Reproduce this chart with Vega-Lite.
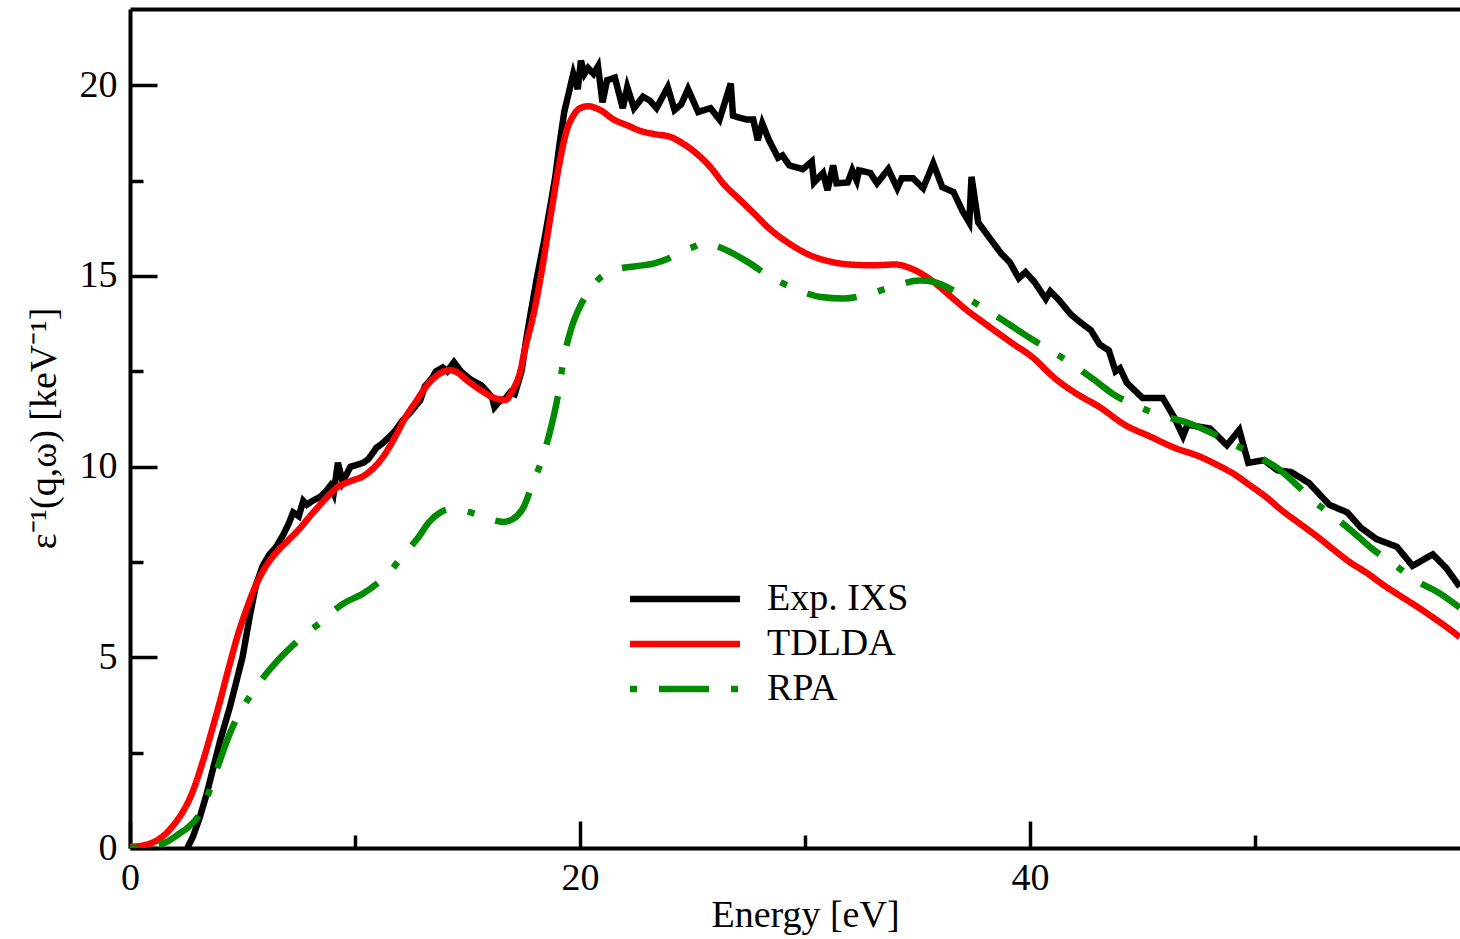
{
"$schema":"https://vega.github.io/schema/vega-lite/v6.json",
"width":1330,"height":839,
"autosize":"none",
"padding":{"left":130,"top":9,"right":0,"bottom":91},
"background":"white",
"config":{
"view":{"stroke":null},
"font":"Liberation Serif",
"axis":{"grid":false,"domainColor":"black","domainWidth":4,"tickColor":"black","tickWidth":3.5,"labelFont":"Liberation Serif","labelFontSize":38,"labelColor":"black","titleFont":"Liberation Serif","titleFontSize":38,"titleFontWeight":"normal","titleColor":"black","labelFlush":false,"labelOverlap":false},
"legend":{"orient":"none","legendX":536,"legendY":571,"symbolType":"M-5,0L5,0","symbolSize":484,"symbolStrokeWidth":6.5,"labelFont":"Liberation Serif","labelFontSize":38,"labelColor":"black","labelOffset":63,"rowPadding":7,"padding":0,"labelLimit":0}
},
"data":{"values":[
{"s":"Exp. IXS","e":2.55,"v":0},{"s":"Exp. IXS","e":2.8,"v":0.3},{"s":"Exp. IXS","e":3.1,"v":0.8},{"s":"Exp. IXS","e":3.4,"v":1.4},{"s":"Exp. IXS","e":3.7,"v":2.1},{"s":"Exp. IXS","e":4.0,"v":2.8},{"s":"Exp. IXS","e":4.44,"v":3.7},{"s":"Exp. IXS","e":4.7,"v":4.3},{"s":"Exp. IXS","e":5.0,"v":5.0},{"s":"Exp. IXS","e":5.33,"v":6.1},{"s":"Exp. IXS","e":5.6,"v":6.9},{"s":"Exp. IXS","e":5.9,"v":7.4},{"s":"Exp. IXS","e":6.2,"v":7.7},{"s":"Exp. IXS","e":6.5,"v":7.9},{"s":"Exp. IXS","e":6.8,"v":8.2},{"s":"Exp. IXS","e":7.05,"v":8.5},{"s":"Exp. IXS","e":7.25,"v":8.8},{"s":"Exp. IXS","e":7.5,"v":8.7},{"s":"Exp. IXS","e":7.7,"v":9.1},{"s":"Exp. IXS","e":7.86,"v":9.0},{"s":"Exp. IXS","e":8.1,"v":9.1},{"s":"Exp. IXS","e":8.44,"v":9.2},{"s":"Exp. IXS","e":8.7,"v":9.35},{"s":"Exp. IXS","e":8.9,"v":9.5},{"s":"Exp. IXS","e":9.05,"v":9.3},{"s":"Exp. IXS","e":9.24,"v":10.1},{"s":"Exp. IXS","e":9.45,"v":9.6},{"s":"Exp. IXS","e":9.8,"v":10.0},{"s":"Exp. IXS","e":10.1,"v":10.05},{"s":"Exp. IXS","e":10.36,"v":10.1},{"s":"Exp. IXS","e":10.6,"v":10.2},{"s":"Exp. IXS","e":10.96,"v":10.5},{"s":"Exp. IXS","e":11.2,"v":10.6},{"s":"Exp. IXS","e":11.56,"v":10.8},{"s":"Exp. IXS","e":11.8,"v":10.95},{"s":"Exp. IXS","e":12.1,"v":11.2},{"s":"Exp. IXS","e":12.5,"v":11.45},{"s":"Exp. IXS","e":12.9,"v":11.74},{"s":"Exp. IXS","e":13.1,"v":12.1},{"s":"Exp. IXS","e":13.4,"v":12.3},{"s":"Exp. IXS","e":13.6,"v":12.5},{"s":"Exp. IXS","e":13.9,"v":12.6},{"s":"Exp. IXS","e":14.1,"v":12.5},{"s":"Exp. IXS","e":14.4,"v":12.74},{"s":"Exp. IXS","e":14.7,"v":12.5},{"s":"Exp. IXS","e":15.1,"v":12.3},{"s":"Exp. IXS","e":15.4,"v":12.2},{"s":"Exp. IXS","e":15.6,"v":12.14},{"s":"Exp. IXS","e":15.9,"v":11.95},{"s":"Exp. IXS","e":16.1,"v":11.8},{"s":"Exp. IXS","e":16.2,"v":11.56},{"s":"Exp. IXS","e":16.4,"v":11.7},{"s":"Exp. IXS","e":16.7,"v":11.8},{"s":"Exp. IXS","e":16.9,"v":11.95},{"s":"Exp. IXS","e":17.1,"v":11.9},{"s":"Exp. IXS","e":17.4,"v":12.5},{"s":"Exp. IXS","e":17.6,"v":13.3},{"s":"Exp. IXS","e":17.8,"v":14.0},{"s":"Exp. IXS","e":18.1,"v":15.0},{"s":"Exp. IXS","e":18.4,"v":15.9},{"s":"Exp. IXS","e":18.7,"v":16.9},{"s":"Exp. IXS","e":18.9,"v":17.6},{"s":"Exp. IXS","e":19.1,"v":18.5},{"s":"Exp. IXS","e":19.3,"v":19.3},{"s":"Exp. IXS","e":19.5,"v":19.8},{"s":"Exp. IXS","e":19.7,"v":20.3},{"s":"Exp. IXS","e":19.9,"v":19.9},{"s":"Exp. IXS","e":20.04,"v":20.65},{"s":"Exp. IXS","e":20.2,"v":20.3},{"s":"Exp. IXS","e":20.36,"v":20.45},{"s":"Exp. IXS","e":20.6,"v":20.3},{"s":"Exp. IXS","e":20.8,"v":20.5},{"s":"Exp. IXS","e":21.0,"v":19.55},{"s":"Exp. IXS","e":21.2,"v":20.13},{"s":"Exp. IXS","e":21.55,"v":20.2},{"s":"Exp. IXS","e":21.9,"v":19.4},{"s":"Exp. IXS","e":22.1,"v":19.95},{"s":"Exp. IXS","e":22.4,"v":19.4},{"s":"Exp. IXS","e":22.8,"v":19.7},{"s":"Exp. IXS","e":23.1,"v":19.6},{"s":"Exp. IXS","e":23.4,"v":19.4},{"s":"Exp. IXS","e":23.9,"v":19.95},{"s":"Exp. IXS","e":24.2,"v":19.35},{"s":"Exp. IXS","e":24.5,"v":19.5},{"s":"Exp. IXS","e":24.8,"v":19.9},{"s":"Exp. IXS","e":25.25,"v":19.3},{"s":"Exp. IXS","e":25.8,"v":19.4},{"s":"Exp. IXS","e":26.2,"v":19.1},{"s":"Exp. IXS","e":26.7,"v":20.05},{"s":"Exp. IXS","e":26.8,"v":19.2},{"s":"Exp. IXS","e":27.4,"v":19.1},{"s":"Exp. IXS","e":27.7,"v":19.1},{"s":"Exp. IXS","e":27.9,"v":18.56},{"s":"Exp. IXS","e":28.1,"v":19.0},{"s":"Exp. IXS","e":28.4,"v":18.56},{"s":"Exp. IXS","e":28.8,"v":18.1},{"s":"Exp. IXS","e":29.0,"v":18.16},{"s":"Exp. IXS","e":29.3,"v":17.9},{"s":"Exp. IXS","e":29.9,"v":17.8},{"s":"Exp. IXS","e":30.3,"v":18.0},{"s":"Exp. IXS","e":30.4,"v":17.45},{"s":"Exp. IXS","e":30.8,"v":17.7},{"s":"Exp. IXS","e":31.0,"v":17.25},{"s":"Exp. IXS","e":31.25,"v":17.9},{"s":"Exp. IXS","e":31.4,"v":17.43},{"s":"Exp. IXS","e":31.9,"v":17.45},{"s":"Exp. IXS","e":32.1,"v":17.77},{"s":"Exp. IXS","e":32.3,"v":17.5},{"s":"Exp. IXS","e":32.4,"v":17.77},{"s":"Exp. IXS","e":32.9,"v":17.7},{"s":"Exp. IXS","e":33.2,"v":17.43},{"s":"Exp. IXS","e":33.7,"v":17.8},{"s":"Exp. IXS","e":34.1,"v":17.3},{"s":"Exp. IXS","e":34.3,"v":17.56},{"s":"Exp. IXS","e":34.8,"v":17.56},{"s":"Exp. IXS","e":35.25,"v":17.3},{"s":"Exp. IXS","e":35.7,"v":17.95},{"s":"Exp. IXS","e":36.1,"v":17.33},{"s":"Exp. IXS","e":36.6,"v":17.2},{"s":"Exp. IXS","e":37.0,"v":16.7},{"s":"Exp. IXS","e":37.3,"v":16.4},{"s":"Exp. IXS","e":37.4,"v":17.6},{"s":"Exp. IXS","e":37.7,"v":16.4},{"s":"Exp. IXS","e":38.2,"v":16.0},{"s":"Exp. IXS","e":38.7,"v":15.6},{"s":"Exp. IXS","e":39.1,"v":15.36},{"s":"Exp. IXS","e":39.5,"v":14.94},{"s":"Exp. IXS","e":39.8,"v":15.1},{"s":"Exp. IXS","e":40.2,"v":14.84},{"s":"Exp. IXS","e":40.7,"v":14.4},{"s":"Exp. IXS","e":40.9,"v":14.6},{"s":"Exp. IXS","e":41.3,"v":14.36},{"s":"Exp. IXS","e":41.8,"v":14.0},{"s":"Exp. IXS","e":42.2,"v":13.8},{"s":"Exp. IXS","e":42.7,"v":13.58},{"s":"Exp. IXS","e":43.1,"v":13.2},{"s":"Exp. IXS","e":43.5,"v":13.05},{"s":"Exp. IXS","e":43.8,"v":12.5},{"s":"Exp. IXS","e":44.0,"v":12.58},{"s":"Exp. IXS","e":44.3,"v":12.2},{"s":"Exp. IXS","e":45.0,"v":11.8},{"s":"Exp. IXS","e":45.9,"v":11.8},{"s":"Exp. IXS","e":46.4,"v":11.3},{"s":"Exp. IXS","e":46.8,"v":10.8},{"s":"Exp. IXS","e":47.0,"v":11.1},{"s":"Exp. IXS","e":48.0,"v":11.0},{"s":"Exp. IXS","e":48.75,"v":10.56},{"s":"Exp. IXS","e":49.3,"v":10.96},{"s":"Exp. IXS","e":49.7,"v":10.1},{"s":"Exp. IXS","e":50.4,"v":10.17},{"s":"Exp. IXS","e":51.0,"v":9.9},{"s":"Exp. IXS","e":51.6,"v":9.86},{"s":"Exp. IXS","e":52.4,"v":9.57},{"s":"Exp. IXS","e":53.3,"v":9.0},{"s":"Exp. IXS","e":54.1,"v":8.8},{"s":"Exp. IXS","e":54.7,"v":8.4},{"s":"Exp. IXS","e":55.4,"v":8.1},{"s":"Exp. IXS","e":56.3,"v":7.9},{"s":"Exp. IXS","e":57.0,"v":7.4},{"s":"Exp. IXS","e":57.9,"v":7.7},{"s":"Exp. IXS","e":58.5,"v":7.34},{"s":"Exp. IXS","e":59.1,"v":6.85},
{"s":"TDLDA","e":0,"v":0.03},{"s":"TDLDA","e":0.6,"v":0.07},{"s":"TDLDA","e":1.2,"v":0.2},{"s":"TDLDA","e":1.6,"v":0.38},{"s":"TDLDA","e":2.0,"v":0.65},{"s":"TDLDA","e":2.4,"v":1.0},{"s":"TDLDA","e":2.8,"v":1.5},{"s":"TDLDA","e":3.2,"v":2.2},{"s":"TDLDA","e":3.6,"v":3.0},{"s":"TDLDA","e":4.0,"v":3.85},{"s":"TDLDA","e":4.4,"v":4.75},{"s":"TDLDA","e":4.8,"v":5.6},{"s":"TDLDA","e":5.2,"v":6.3},{"s":"TDLDA","e":5.6,"v":6.9},{"s":"TDLDA","e":6.0,"v":7.35},{"s":"TDLDA","e":6.5,"v":7.75},{"s":"TDLDA","e":7.0,"v":8.05},{"s":"TDLDA","e":7.5,"v":8.35},{"s":"TDLDA","e":8.0,"v":8.7},{"s":"TDLDA","e":8.6,"v":9.1},{"s":"TDLDA","e":9.2,"v":9.45},{"s":"TDLDA","e":9.8,"v":9.62},{"s":"TDLDA","e":10.36,"v":9.75},{"s":"TDLDA","e":10.8,"v":9.95},{"s":"TDLDA","e":11.24,"v":10.25},{"s":"TDLDA","e":11.8,"v":10.8},{"s":"TDLDA","e":12.2,"v":11.25},{"s":"TDLDA","e":12.7,"v":11.7},{"s":"TDLDA","e":13.3,"v":12.2},{"s":"TDLDA","e":13.8,"v":12.45},{"s":"TDLDA","e":14.2,"v":12.53},{"s":"TDLDA","e":14.6,"v":12.45},{"s":"TDLDA","e":14.9,"v":12.3},{"s":"TDLDA","e":15.6,"v":12.0},{"s":"TDLDA","e":16.2,"v":11.8},{"s":"TDLDA","e":16.7,"v":11.75},{"s":"TDLDA","e":17.0,"v":12.0},{"s":"TDLDA","e":17.3,"v":12.4},{"s":"TDLDA","e":17.6,"v":13.2},{"s":"TDLDA","e":17.9,"v":13.9},{"s":"TDLDA","e":18.2,"v":14.8},{"s":"TDLDA","e":18.7,"v":16.6},{"s":"TDLDA","e":19.1,"v":18.0},{"s":"TDLDA","e":19.4,"v":18.8},{"s":"TDLDA","e":19.7,"v":19.2},{"s":"TDLDA","e":20.0,"v":19.4},{"s":"TDLDA","e":20.36,"v":19.45},{"s":"TDLDA","e":20.9,"v":19.35},{"s":"TDLDA","e":21.5,"v":19.1},{"s":"TDLDA","e":22.1,"v":18.95},{"s":"TDLDA","e":22.7,"v":18.8},{"s":"TDLDA","e":23.3,"v":18.72},{"s":"TDLDA","e":24.0,"v":18.65},{"s":"TDLDA","e":24.5,"v":18.5},{"s":"TDLDA","e":25.1,"v":18.25},{"s":"TDLDA","e":25.8,"v":17.85},{"s":"TDLDA","e":26.4,"v":17.4},{"s":"TDLDA","e":27.1,"v":17.0},{"s":"TDLDA","e":27.8,"v":16.6},{"s":"TDLDA","e":28.4,"v":16.25},{"s":"TDLDA","e":29.3,"v":15.85},{"s":"TDLDA","e":30.2,"v":15.55},{"s":"TDLDA","e":31.1,"v":15.38},{"s":"TDLDA","e":32.0,"v":15.3},{"s":"TDLDA","e":33.0,"v":15.28},{"s":"TDLDA","e":34.0,"v":15.3},{"s":"TDLDA","e":34.7,"v":15.2},{"s":"TDLDA","e":35.2,"v":15.05},{"s":"TDLDA","e":35.7,"v":14.85},{"s":"TDLDA","e":36.5,"v":14.45},{"s":"TDLDA","e":37.2,"v":14.1},{"s":"TDLDA","e":38.0,"v":13.75},{"s":"TDLDA","e":38.7,"v":13.45},{"s":"TDLDA","e":39.3,"v":13.2},{"s":"TDLDA","e":40.0,"v":12.92},{"s":"TDLDA","e":41.2,"v":12.27},{"s":"TDLDA","e":42.1,"v":11.9},{"s":"TDLDA","e":43.1,"v":11.56},{"s":"TDLDA","e":44.2,"v":11.1},{"s":"TDLDA","e":45.3,"v":10.8},{"s":"TDLDA","e":46.4,"v":10.5},{"s":"TDLDA","e":47.6,"v":10.25},{"s":"TDLDA","e":48.3,"v":10.05},{"s":"TDLDA","e":49.0,"v":9.83},{"s":"TDLDA","e":49.8,"v":9.5},{"s":"TDLDA","e":50.5,"v":9.2},{"s":"TDLDA","e":51.2,"v":8.85},{"s":"TDLDA","e":52.0,"v":8.5},{"s":"TDLDA","e":52.8,"v":8.15},{"s":"TDLDA","e":53.5,"v":7.82},{"s":"TDLDA","e":54.2,"v":7.5},{"s":"TDLDA","e":55.0,"v":7.2},{"s":"TDLDA","e":55.7,"v":6.9},{"s":"TDLDA","e":56.4,"v":6.63},{"s":"TDLDA","e":57.2,"v":6.33},{"s":"TDLDA","e":57.9,"v":6.05},{"s":"TDLDA","e":58.5,"v":5.8},{"s":"TDLDA","e":59.1,"v":5.53},
{"s":"RPA","e":0,"v":0.0},{"s":"RPA","e":0.8,"v":0.03},{"s":"RPA","e":1.2,"v":0.08},{"s":"RPA","e":1.6,"v":0.15},{"s":"RPA","e":2.2,"v":0.38},{"s":"RPA","e":2.6,"v":0.55},{"s":"RPA","e":3.1,"v":0.9},{"s":"RPA","e":3.5,"v":1.45},{"s":"RPA","e":4.0,"v":2.3},{"s":"RPA","e":4.4,"v":2.95},{"s":"RPA","e":4.74,"v":3.4},{"s":"RPA","e":5.33,"v":3.98},{"s":"RPA","e":6.1,"v":4.6},{"s":"RPA","e":6.7,"v":5.0},{"s":"RPA","e":7.4,"v":5.4},{"s":"RPA","e":8.0,"v":5.7},{"s":"RPA","e":8.44,"v":5.9},{"s":"RPA","e":9.0,"v":6.2},{"s":"RPA","e":9.6,"v":6.45},{"s":"RPA","e":10.3,"v":6.65},{"s":"RPA","e":11.0,"v":6.94},{"s":"RPA","e":11.5,"v":7.2},{"s":"RPA","e":11.9,"v":7.5},{"s":"RPA","e":12.4,"v":7.85},{"s":"RPA","e":12.76,"v":8.1},{"s":"RPA","e":13.3,"v":8.55},{"s":"RPA","e":13.8,"v":8.8},{"s":"RPA","e":14.2,"v":8.88},{"s":"RPA","e":14.8,"v":8.85},{"s":"RPA","e":15.4,"v":8.75},{"s":"RPA","e":16.0,"v":8.62},{"s":"RPA","e":16.6,"v":8.55},{"s":"RPA","e":17.0,"v":8.62},{"s":"RPA","e":17.5,"v":8.95},{"s":"RPA","e":17.9,"v":9.56},{"s":"RPA","e":18.3,"v":10.17},{"s":"RPA","e":18.7,"v":11.0},{"s":"RPA","e":19.0,"v":11.8},{"s":"RPA","e":19.3,"v":12.9},{"s":"RPA","e":19.6,"v":13.6},{"s":"RPA","e":20.0,"v":14.2},{"s":"RPA","e":20.4,"v":14.6},{"s":"RPA","e":20.8,"v":14.9},{"s":"RPA","e":21.2,"v":15.07},{"s":"RPA","e":21.8,"v":15.2},{"s":"RPA","e":22.4,"v":15.25},{"s":"RPA","e":23.3,"v":15.33},{"s":"RPA","e":23.9,"v":15.45},{"s":"RPA","e":24.4,"v":15.6},{"s":"RPA","e":25.0,"v":15.75},{"s":"RPA","e":25.5,"v":15.86},{"s":"RPA","e":26.0,"v":15.8},{"s":"RPA","e":26.7,"v":15.62},{"s":"RPA","e":27.5,"v":15.35},{"s":"RPA","e":28.4,"v":15.0},{"s":"RPA","e":29.5,"v":14.68},{"s":"RPA","e":30.7,"v":14.45},{"s":"RPA","e":31.7,"v":14.41},{"s":"RPA","e":32.7,"v":14.5},{"s":"RPA","e":33.9,"v":14.72},{"s":"RPA","e":35.1,"v":14.88},{"s":"RPA","e":35.7,"v":14.85},{"s":"RPA","e":36.4,"v":14.68},{"s":"RPA","e":37.1,"v":14.45},{"s":"RPA","e":38.1,"v":14.1},{"s":"RPA","e":39.1,"v":13.72},{"s":"RPA","e":40.0,"v":13.37},{"s":"RPA","e":40.9,"v":13.05},{"s":"RPA","e":41.8,"v":12.72},{"s":"RPA","e":42.8,"v":12.3},{"s":"RPA","e":43.7,"v":11.9},{"s":"RPA","e":44.7,"v":11.6},{"s":"RPA","e":45.8,"v":11.35},{"s":"RPA","e":47.0,"v":11.15},{"s":"RPA","e":48.0,"v":10.9},{"s":"RPA","e":49.0,"v":10.6},{"s":"RPA","e":50.0,"v":10.3},{"s":"RPA","e":51.0,"v":9.96},{"s":"RPA","e":51.8,"v":9.55},{"s":"RPA","e":52.6,"v":9.1},{"s":"RPA","e":53.5,"v":8.7},{"s":"RPA","e":54.4,"v":8.26},{"s":"RPA","e":55.2,"v":7.85},{"s":"RPA","e":56.1,"v":7.47},{"s":"RPA","e":57.2,"v":7.0},{"s":"RPA","e":58.2,"v":6.68},{"s":"RPA","e":59.1,"v":6.3}
]},
"resolve":{"axis":{"x":"independent","y":"independent"}},
"layer":[
{"transform":[{"filter":"datum.s === 'Exp. IXS'"}],
"mark":{"type":"line","strokeWidth":6.5,"clip":true,"interpolate":"linear"},
"encoding":{
"x":{"field":"e","type":"quantitative","scale":{"domain":[0,59.11],"nice":false,"zero":false},"axis":{"orient":"bottom","values":[0,20,40],"tickSize":-27,"labelPadding":38,"title":"Energy [eV]","titleX":675,"titleY":78,"titleBaseline":"alphabetic","titleAlign":"center"}},
"y":{"field":"v","type":"quantitative","scale":{"domain":[0,22],"nice":false},"axis":{"orient":"left","values":[0,5,10,15,20],"tickSize":-27,"labelPadding":40,"title":"ε⁻¹(q,ω) [keV⁻¹]","titleX":-75,"titleY":419,"titleAngle":-90,"titleBaseline":"alphabetic","titleAlign":"center"}},
"color":{"field":"s","type":"nominal","scale":{"domain":["Exp. IXS","TDLDA","RPA"],"range":["#000000","#ff0000","#008b00"]},"legend":{"title":null}},
"strokeDash":{"field":"s","type":"nominal","scale":{"domain":["Exp. IXS","TDLDA","RPA"],"range":[[1,0],[1,0],[7,22,50,22]]},"legend":{"title":null}}
}},
{"transform":[{"filter":"datum.s === 'TDLDA'"}],
"mark":{"type":"line","strokeWidth":6.5,"clip":true,"interpolate":"monotone"},
"encoding":{
"x":{"field":"e","type":"quantitative","axis":{"orient":"bottom","values":[10,30,50],"tickSize":-13,"labels":false,"domain":false,"title":null}},
"y":{"field":"v","type":"quantitative","axis":{"orient":"left","values":[2.5,7.5,12.5,17.5],"tickSize":-13,"labels":false,"domain":false,"title":null}},
"color":{"field":"s","type":"nominal","legend":{"title":null}},
"strokeDash":{"field":"s","type":"nominal","legend":{"title":null}}
}},
{"transform":[{"filter":"datum.s === 'RPA'"}],
"mark":{"type":"line","strokeWidth":6.5,"clip":true,"interpolate":"monotone"},
"encoding":{
"x":{"field":"e","type":"quantitative","axis":{"orient":"top","ticks":false,"labels":false,"domain":true,"title":null}},
"y":{"field":"v","type":"quantitative","axis":null},
"color":{"field":"s","type":"nominal","legend":{"title":null}},
"strokeDash":{"field":"s","type":"nominal","legend":{"title":null}}
}}
]
}
